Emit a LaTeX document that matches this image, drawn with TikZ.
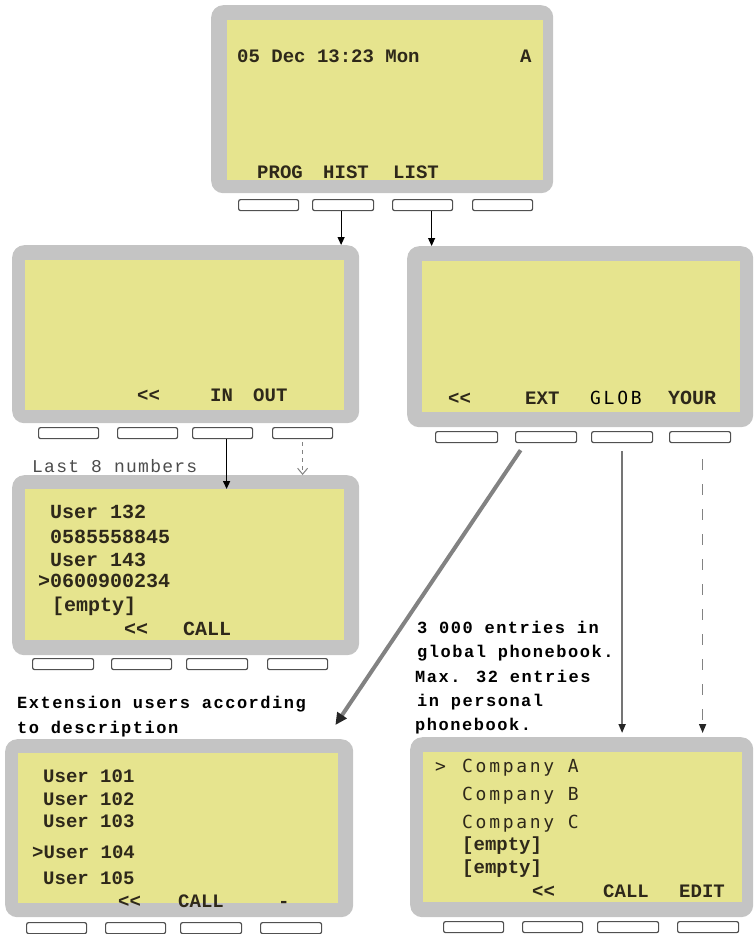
\documentclass[tikz,border=0pt]{standalone}
\usepackage{fontspec}
\usetikzlibrary{arrows.meta}
\newfontfamily\monofam{Liberation Mono}
\newfontfamily\notefam[LetterSpace=9]{Liberation Mono}
\newfontfamily\lastfam[LetterSpace=7]{Liberation Mono}
\newfontfamily\smonofam[LetterSpace=15]{DejaVu Sans Mono}
\definecolor{framegray}{RGB}{196,196,196}
\definecolor{lcdyellow}{RGB}{230,228,142}
\definecolor{lcdtext}{RGB}{46,40,26}
\definecolor{keyedge}{RGB}{80,80,80}
\definecolor{arrgray}{RGB}{130,130,130}
\newcommand\lcdA{\monofam\bfseries\fontsize{19}{19}\selectfont}
\newcommand\lcdB{\monofam\bfseries\fontsize{20}{20}\selectfont}
\newcommand\lcdS{\smonofam\fontsize{18}{18}\selectfont}
\newcommand\notesz{\notefam\bfseries\fontsize{17}{17}\selectfont}
\tikzset{
  screen/.style={fill=framegray, rounded corners=12pt, inner sep=0pt, anchor=north west},
  lcd/.style={fill=lcdyellow, inner sep=0pt, anchor=north west},
  key/.style={draw=keyedge, fill=white, rounded corners=2pt, line width=1.2pt,
              inner sep=0pt, anchor=north west, minimum height=11pt},
  lbl/.style={anchor=base west, inner sep=0pt, text=lcdtext, font=\lcdA},
  note/.style={anchor=base west, inner sep=0pt, text=black, font=\notesz},
  arr/.style={-{Triangle[length=8pt,width=7pt]}, line width=1.1pt, black},
}
\begin{document}
\begin{tikzpicture}[x=1pt,y=-1pt]
\useasboundingbox (0,0) rectangle (754,934);

% ---------- top screen ----------
\node[screen, minimum width=342pt, minimum height=188pt] (ts) at (211,5) {};
\node[lcd, minimum width=316pt, minimum height=160pt] (tl) at (227,20) {};
\node[key, minimum width=60pt] (tk1) at (238,199) {};
\node[key, minimum width=61pt] (tk2) at (312,199) {};
\node[key, minimum width=60pt] (tk3) at (392,199) {};
\node[key, minimum width=60pt] (tk4) at (472,199) {};
\node[lbl] (t1) at (237,63) {05 Dec 13:23 Mon};
\node[lbl] (t2) at (520,63) {A};
\node[lbl] (t3) at (257,178) {PROG};
\node[lbl] (t4) at (323,178) {HIST};
\node[lbl] (t5) at (393,178) {LIST};

% ---------- middle left (history menu) ----------
\node[screen, minimum width=347pt, minimum height=178pt] (ms) at (12,245) {};
\node[lcd, minimum width=319pt, minimum height=150pt] (ml) at (25,260) {};
\node[key, minimum width=60pt] (mk1) at (38,427) {};
\node[key, minimum width=60pt] (mk2) at (117,427) {};
\node[key, minimum width=60pt] (mk3) at (192,427) {};
\node[key, minimum width=60pt] (mk4) at (272,427) {};
\node[lbl] (m1) at (137,401) {<<};
\node[lbl] (m2) at (210,401) {IN};
\node[lbl] (m3) at (253,401) {OUT};

% ---------- middle right (list menu) ----------
\node[screen, minimum width=346pt, minimum height=181pt] (rs) at (407,246) {};
\node[lcd, minimum width=318pt, minimum height=151pt] (rl) at (422,261) {};
\node[key, minimum width=62pt] (rk1) at (435,431) {};
\node[key, minimum width=61pt] (rk2) at (515,431) {};
\node[key, minimum width=61pt] (rk3) at (591,431) {};
\node[key, minimum width=61pt] (rk4) at (669,431) {};
\node[lbl] (r1) at (448,404) {<<};
\node[lbl] (r2) at (525,404) {EXT};
\node[lbl, font=\lcdS, text=black] (r3) at (590,404) {GLOB};
\node[lbl, font=\lcdB] (r4) at (668,404) {YOUR};

% ---------- history list ----------
\node[screen, minimum width=347pt, minimum height=180pt] (hs) at (12,475) {};
\node[lcd, minimum width=319pt, minimum height=151pt] (hl) at (25,489) {};
\node[key, minimum width=61pt] (hk1) at (32,658) {};
\node[key, minimum width=60pt] (hk2) at (111,658) {};
\node[key, minimum width=61pt] (hk3) at (186,658) {};
\node[key, minimum width=60pt] (hk4) at (267,658) {};
\node[lbl, font=\lcdB] (h1) at (50,518) {User 132};
\node[lbl, font=\lcdB] (h2) at (50,543) {0585558845};
\node[lbl, font=\lcdB] (h3) at (50,566) {User 143};
\node[lbl, font=\lcdB] (h4) at (38,587) {>0600900234};
\node[lbl, font=\lcdB] (h5) at (52,611) {[empty]};
\node[lbl, font=\lcdB] (h6) at (124,635) {<<};
\node[lbl, font=\lcdB] (h7) at (183,635) {CALL};
\node[anchor=base west, inner sep=0pt, text=black!70, font=\lastfam\fontsize{18}{18}\selectfont] (hn) at (32,472) {Last 8 numbers};

% ---------- extension users ----------
\node[screen, minimum width=348pt, minimum height=178pt] (es) at (5,739) {};
\node[lcd, minimum width=320pt, minimum height=150pt] (el) at (18,753) {};
\node[key, minimum width=60pt] (ek1) at (26,922) {};
\node[key, minimum width=60pt] (ek2) at (105,922) {};
\node[key, minimum width=61pt] (ek3) at (180,922) {};
\node[key, minimum width=61pt] (ek4) at (260,922) {};
\node[lbl] (e1) at (43,782) {User 101};
\node[lbl] (e2) at (43,805) {User 102};
\node[lbl] (e3) at (43,827) {User 103};
\node[lbl] (e4) at (32,858) {>User 104};
\node[lbl] (e5) at (43,884) {User 105};
\node[lbl] (e6) at (118,907) {<<};
\node[lbl] (e7) at (178,907) {CALL};
\node[lbl] (e8) at (278,907) {-};
\node[note] (en1) at (17,708) {Extension users according};
\node[note] (en2) at (17,733) {to description};

% ---------- phonebook ----------
\node[screen, minimum width=343pt, minimum height=180pt] (ps) at (410,737) {};
\node[lcd, minimum width=319pt, minimum height=150pt] (pl) at (423,752) {};
\node[key, minimum width=60pt] (pk1) at (443,921) {};
\node[key, minimum width=60pt] (pk2) at (522,921) {};
\node[key, minimum width=61pt] (pk3) at (597,921) {};
\node[key, minimum width=61pt] (pk4) at (677,921) {};
\node[lbl, font=\lcdS] (p0) at (435,772) {>};
\node[lbl, font=\lcdS] (p1) at (462,772) {Company A};
\node[lbl, font=\lcdS] (p2) at (462,800) {Company B};
\node[lbl, font=\lcdS] (p3) at (462,828) {Company C};
\node[lbl] (p4) at (462,850) {[empty]};
\node[lbl] (p5) at (462,873) {[empty]};
\node[lbl] (p6) at (532,897) {<<};
\node[lbl] (p7) at (603,897) {CALL};
\node[lbl] (p8) at (679,897) {EDIT};
\node[note] (pn1) at (417,633) {3 000 entries in};
\node[note] (pn2) at (417,657) {global phonebook.};
\node[note] (pn3) at (415,682) {Max. 32 entries};
\node[note] (pn4) at (417,706) {in personal};
\node[note] (pn5) at (415,730) {phonebook.};

% ---------- connectors ----------
\draw[arr] ([xshift=-2pt]tk2.south) -- ([xshift=-2pt]tk2.south |- ms.north);
\draw[arr] ([xshift=9pt]tk3.south) -- ([xshift=9pt]tk3.south |- rs.north);
\draw[arr, line width=1.4pt] ([xshift=4pt]mk3.south) -- ([xshift=4pt]mk3.south |- hl.north);
\draw[arrgray, line width=1pt, dash pattern=on 4pt off 4pt, -{Straight Barb[length=6pt,width=10pt]}]
  ([yshift=-3pt]mk4.south) -- (mk4.south |- hs.north);
\coordinate (etip) at ([xshift=-18pt,yshift=14pt]es.north east);
\draw[arrgray, line width=4pt, -{Triangle[length=12pt,width=11pt,color=black!85]}]
  ([xshift=-25.5pt,yshift=-7pt]rk2.south) -- (etip);
\draw[arrgray!90!black, line width=1.8pt, -{Triangle[length=9pt,width=7pt,color=black!85]}]
  ([yshift=-8pt]rk3.south) -- ([yshift=4pt]rk3.south |- ps.north);
\draw[arrgray, line width=1.6pt, dash pattern=on 11pt off 14pt, -{Triangle[length=9pt,width=7pt,color=black!85]}]
  ([xshift=2.5pt,yshift=-16pt]rk4.south) -- ([xshift=2.5pt,yshift=4pt]rk4.south |- ps.north);
\end{tikzpicture}
\end{document}
